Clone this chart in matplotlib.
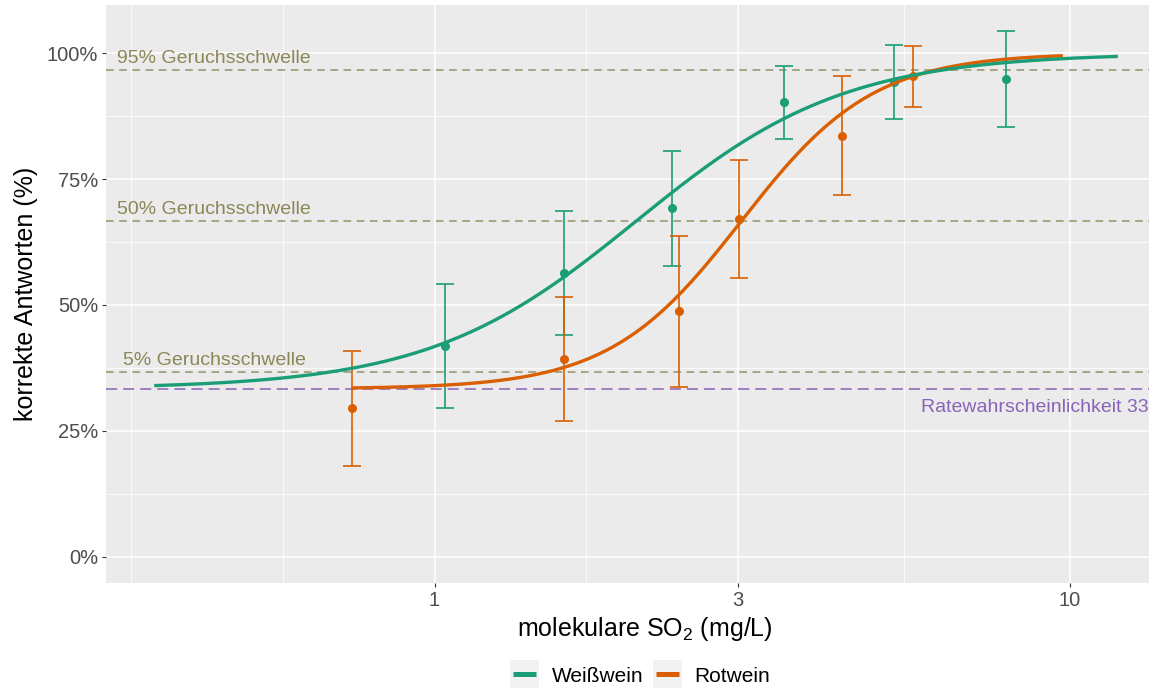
import numpy as np
import matplotlib
matplotlib.use("Agg")
import matplotlib.pyplot as plt
from matplotlib.lines import Line2D
from matplotlib.patches import Rectangle
from matplotlib.legend_handler import HandlerBase
from matplotlib.ticker import FixedLocator, FixedFormatter, NullFormatter

plt.rcParams['font.family'] = ['Liberation Sans', 'DejaVu Sans']
plt.rcParams['mathtext.fontset'] = 'custom'
plt.rcParams['mathtext.rm'] = 'Liberation Sans'
plt.rcParams['mathtext.it'] = 'Liberation Sans:italic'
plt.rcParams['lines.scale_dashes'] = False

# ---------------- data ----------------
series = ["Weißwein", "Rotwein"]
colors = ["#1B9E77", "#D95F02"]

# Weißwein: observed proportion correct (%) with confidence interval
white_x = [1.04, 1.60, 2.365, 3.55, 5.29, 7.94]
white_y = [41.9, 56.4, 69.2, 90.2, 94.3, 94.9]
white_lo = [29.6, 44.0, 57.7, 82.9, 86.9, 85.3]
white_hi = [54.1, 68.6, 80.6, 97.5, 101.7, 104.4]

# Rotwein
red_x = [0.741, 1.60, 2.425, 3.01, 4.38, 5.67]
red_y = [29.5, 39.2, 48.7, 67.1, 83.6, 95.5]
red_lo = [18.0, 27.0, 33.8, 55.3, 71.8, 89.4]
red_hi = [40.8, 51.5, 63.6, 78.8, 95.5, 101.4]

# fitted psychometric curves (logistic in log10 concentration, guess rate 1/3)
fit_threshold_log10 = [0.3176, 0.483]
fit_scale_log10 = [0.164, 0.104]
fit_x_min = [0.362, 0.741]
fit_x_max = [11.9, 9.75]
guess_rate = 100.0 / 3.0

# threshold lines
threshold_levels = [95, 50, 5]
threshold_labels = ["95% Geruchsschwelle", "50% Geruchsschwelle", "5% Geruchsschwelle"]
threshold_label_x = 0.45
chance_label = "Ratewahrscheinlichkeit 33%"
chance_label_x = 9.1

x_breaks = [1, 3, 10]
x_labels = ["1", "3", "10"]
y_breaks = [0, 25, 50, 75, 100]
y_labels = ["0%", "25%", "50%", "75%", "100%"]

# ---------------- figure ----------------
W, H = 1149, 688
fig = plt.figure(figsize=(W / 100, H / 100), dpi=100)
ax = fig.add_axes([106 / W, 105 / H, 1060 / W, 578.3 / H])
ax.set_facecolor("#EBEBEB")
for s in ax.spines.values():
    s.set_visible(False)

ax.set_xscale("log")
lo = np.log10(min(fit_x_min))
hi = np.log10(max(fit_x_max))
pad = 0.05 * (hi - lo)
ax.set_xlim(10 ** (lo - pad), 10 ** (hi + pad))
ymax = max(white_hi + red_hi)
ax.set_ylim(-0.05 * ymax, ymax * 1.05)

# grid: ggplot style minor breaks
lb = np.log10(x_breaks)
ext = np.concatenate([[lb[0] - (lb[1] - lb[0])], lb, [lb[-1] + (lb[-1] - lb[-2])]])
minor = np.concatenate([ext, (ext[:-1] + ext[1:]) / 2])
minor = [10 ** v for v in minor if not np.any(np.isclose(v, lb))]
ax.xaxis.set_major_locator(FixedLocator(x_breaks))
ax.xaxis.set_major_formatter(FixedFormatter(x_labels))
ax.xaxis.set_minor_locator(FixedLocator(minor))
ax.xaxis.set_minor_formatter(NullFormatter())
ax.yaxis.set_major_locator(FixedLocator(y_breaks))
ax.yaxis.set_major_formatter(FixedFormatter(y_labels))
ymin_b = [(a + b) / 2 for a, b in zip(y_breaks[:-1], y_breaks[1:])]
ax.yaxis.set_minor_locator(FixedLocator(ymin_b))
ax.grid(which="major", color="white", lw=1.1)
ax.grid(which="minor", color="white", lw=0.55)
ax.set_axisbelow(True)
ax.tick_params(which="major", length=3.2, width=0.8, color="#333333",
               labelsize=14.5, labelcolor="#4D4D4D", pad=2.5)
ax.tick_params(which="minor", length=0)

# threshold lines
olive_line = "#96926A"
olive_text = "#8B8756"
for lvl, lab in zip(threshold_levels, threshold_labels):
    yv = guess_rate + (100 - guess_rate) * lvl / 100
    ax.axhline(yv, color=olive_line, lw=1.1, dashes=(5.5, 4.0), zorder=2)
    ax.text(threshold_label_x, yv + 1.35, lab, color=olive_text, fontsize=14,
            ha="center", va="baseline", zorder=3)

purple = "#8A63B8"
ax.axhline(guess_rate, color=purple, lw=1.1, dashes=(8, 4.3), zorder=2)
ax.text(chance_label_x, guess_rate - 4.55, chance_label, color=purple, fontsize=14,
        ha="center", va="baseline", zorder=3, clip_on=False)

# data
data = [(white_x, white_y, white_lo, white_hi), (red_x, red_y, red_lo, red_hi)]
for i, (xs, ys, los, his) in enumerate(data):
    c = colors[i]
    ys_a = np.array(ys)
    yerr = np.vstack([ys_a - np.array(los), np.array(his) - ys_a])
    ax.errorbar(xs, ys, yerr=yerr, fmt="o", color=c, ms=5.5, elinewidth=1.2,
                capsize=6.5, capthick=1.2, ecolor=c, zorder=4 + i)

for i in [1, 0]:
    xx = np.logspace(np.log10(fit_x_min[i]), np.log10(fit_x_max[i]), 300)
    F = 1 / (1 + np.exp(-(np.log10(xx) - fit_threshold_log10[i]) / fit_scale_log10[i]))
    yy = guess_rate + (100 - guess_rate) * F
    ax.plot(xx, yy, color=colors[i], lw=2.4, zorder=6 + (1 - i) * 0.5,
            solid_capstyle="butt")

ax.set_xlabel(r"molekulare SO$_\mathregular{2}$ (mg/L)", fontsize=18)
ax.set_ylabel("korrekte Antworten (%)", fontsize=18, labelpad=6)
ax.xaxis.set_label_coords(0.508, -0.056)


class KeyHandler(HandlerBase):
    def create_artists(self, legend, orig_handle, xdescent, ydescent,
                       width, height, fontsize, trans):
        side = width
        cy = height / 2 - ydescent
        rect = Rectangle((-xdescent, cy - side / 2), side, side,
                         facecolor="#F2F2F2", edgecolor="none", transform=trans)
        inset = side * 0.1
        ln = Line2D([-xdescent + inset, -xdescent + side - inset], [cy, cy],
                    color=orig_handle.get_color(), lw=3.6, transform=trans,
                    solid_capstyle="butt")
        return [rect, ln]


handles = [Line2D([0], [0], color=c, lw=3) for c in colors]
fig.legend(handles, series, loc="center", bbox_to_anchor=(640 / W, 1 - 676 / H),
           ncol=2, frameon=False, fontsize=15, handlelength=1.4,
           handletextpad=0.6, columnspacing=0.45, borderpad=0.2,
           handler_map={Line2D: KeyHandler()})

fig.savefig("out.png", dpi=100)
